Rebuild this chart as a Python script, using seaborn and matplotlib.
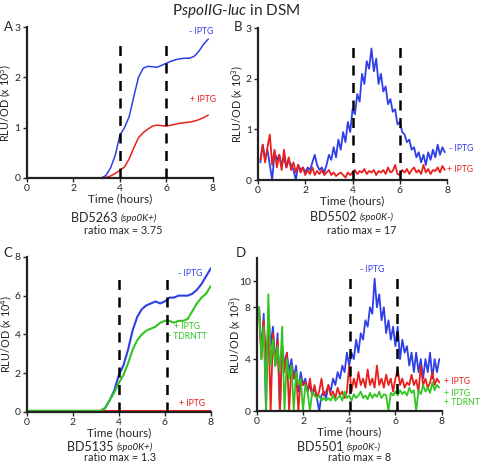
import numpy as np
import matplotlib
matplotlib.use('Agg')
import matplotlib.pyplot as plt
import seaborn as sns

sns.set_style('ticks')
plt.rcParams['font.family'] = ['Lato', 'DejaVu Sans']
plt.rcParams['mathtext.fontset'] = 'custom'
plt.rcParams['mathtext.rm'] = 'Lato'
plt.rcParams['mathtext.it'] = 'Lato:italic'

BLUE = '#2f3fe8'
RED = '#e8201c'
GREEN = '#33c422'

# ---- Panel A (x 10^5), 0.2 h steps
time_a = np.round(np.arange(0, 7.81, 0.2), 1)
a_minus = [0]*17 + [0.05, 0.2, 0.45, 0.85, 1.0, 1.22, 1.62, 2.0, 2.18, 2.22, 2.21, 2.2,
                    2.24, 2.28, 2.32, 2.35, 2.37, 2.38, 2.38, 2.42, 2.52, 2.66, 2.76]
a_plus = [0]*17 + [0.01, 0.04, 0.09, 0.15, 0.22, 0.38, 0.6, 0.8, 0.9, 0.97, 1.03, 1.05,
                   1.04, 1.03, 1.05, 1.07, 1.09, 1.1, 1.11, 1.13, 1.16, 1.2, 1.25]

# ---- Panel B (x 10^3), 0.1 h steps
time_b = np.round(np.arange(0.1, 7.91, 0.1), 1)
b_minus = [0.35, 0.7, 0.4, 0.6, 0.3, 0.0, 0.55, 0.4, 0.5, 0.3,
           0.45, 0.25, 0.4, 0.3, 0.2, 0.0, 0.3, 0.2, 0.25, 0.15,
           0.25, 0.2, 0.35, 0.5, 0.3, 0.2, 0.25, 0.15, 0.3, 0.5,
           0.4, 0.65, 0.45, 0.8, 0.6, 0.95, 0.75, 1.15, 0.95, 1.4,
           1.3, 1.7, 1.55, 2.1, 1.9, 2.35, 2.2, 2.6, 2.15, 2.4,
           1.9, 2.1, 1.75, 1.85, 1.5, 1.6, 1.35, 1.4, 1.1, 1.15,
           0.95, 0.9, 0.75, 0.8, 0.6, 0.65, 0.45, 0.55, 0.35, 0.5,
           0.3, 0.55, 0.4, 0.6, 0.45, 0.7, 0.5, 0.65, 0.55]
b_plus = [0.4, 0.7, 0.35, 0.65, 0.9, 0.3, 0.6, 0.25, 0.5, 0.2,
          0.6, 0.25, 0.45, 0.2, 0.35, 0.15, 0.3, 0.15, 0.25, 0.1,
          0.2, 0.12, 0.25, 0.1, 0.18, 0.12, 0.2, 0.1, 0.15, 0.2,
          0.1, 0.15, 0.08, 0.12, 0.15, 0.1, 0.05, 0.15, 0.1, 0.15,
          0.2, 0.12, 0.18, 0.15, 0.22, 0.12, 0.18, 0.15, 0.2, 0.1,
          0.18, 0.15, 0.2, 0.12, 0.25, 0.15, 0.18, 0.3, 0.12, 0.1,
          0.2, 0.15, 0.22, 0.12, 0.2, 0.25, 0.15, 0.2, 0.12, 0.3,
          0.15, 0.22, 0.12, 0.2, 0.18, 0.25, 0.15, 0.28, 0.2]

# ---- Panel C (x 10^4), 0.2 h steps
time_c = np.round(np.arange(0, 8.01, 0.2), 1)
c_minus = [0.05]*17 + [0.2, 0.6, 1.1, 1.9, 2.4, 3.2, 4.2, 4.9, 5.3, 5.5, 5.6, 5.7,
                       5.6, 5.7, 5.9, 5.9, 6.0, 6.0, 6.0, 6.1, 6.3, 6.6, 7.0, 7.4]
c_plus = [0.03]*41
c_plus_tdr = [0.06]*17 + [0.2, 0.6, 1.0, 1.5, 1.9, 2.5, 3.2, 3.7, 4.0, 4.2, 4.3, 4.4,
                          4.6, 4.7, 4.7, 4.6, 4.7, 4.7, 4.8, 5.2, 5.6, 5.9, 6.1, 6.5]

# ---- Panel D (x 10^3), 0.1 h steps
time_d = np.round(np.arange(0.1, 7.91, 0.1), 1)
d_minus = [8.0, 4.5, 7.5, 0.0, 7.8, 5.0, 6.5, 3.5, 6.0, 0.0,
           5.0, 3.5, 4.5, 3.0, 4.0, 2.5, 3.5, 1.5, 3.0, 2.0,
           2.5, 1.5, 2.0, 1.2, 1.8, 1.0, 0.0, 1.2, 1.5, 1.0,
           2.0, 1.5, 2.5, 2.0, 3.0, 2.5, 3.5, 3.0, 4.5, 3.5,
           4.5, 4.0, 5.5, 4.5, 6.0, 5.5, 7.0, 6.5, 8.0, 7.5,
           10.2, 8.0, 9.0, 7.0, 8.0, 6.0, 7.0, 5.5, 6.5, 5.0,
           6.5, 4.0, 5.5, 4.5, 5.0, 3.5, 4.5, 3.0, 4.5, 3.0,
           4.0, 2.5, 4.0, 3.0, 4.5, 2.5, 4.0, 3.0, 4.0]
d_plus = [7.5, 4.0, 7.0, 4.0, 6.5, 0.0, 6.0, 3.5, 5.5, 0.0,
          5.0, 3.0, 4.5, 0.0, 3.5, 2.5, 3.0, 0.0, 2.5, 2.0,
          2.2, 1.5, 2.5, 1.2, 2.0, 1.0, 1.5, 2.5, 1.2, 1.5,
          2.0, 1.2, 1.5, 1.0, 1.8, 1.2, 1.5, 1.0, 1.5, 3.5,
          1.5, 2.5, 1.8, 3.0, 2.0, 2.5, 1.8, 3.2, 2.0, 2.5,
          1.8, 3.5, 2.0, 2.5, 1.8, 2.8, 2.0, 2.5, 1.5, 2.5,
          3.2, 2.0, 2.5, 1.8, 2.2, 2.0, 2.8, 2.0, 2.4, 1.5,
          3.5, 2.0, 2.5, 1.8, 2.2, 3.0, 2.0, 2.5, 2.2]
d_plus_tdr = [8.0, 4.0, 6.5, 0.0, 9.0, 3.5, 5.5, 3.5, 5.0, 3.0,
              6.5, 0.0, 4.0, 2.5, 3.5, 0.0, 3.0, 2.0, 2.5, 0.0,
              2.0, 1.5, 0.0, 1.5, 1.2, 1.0, 1.2, 0.8, 1.0, 0.8,
              1.0, 0.8, 1.2, 0.8, 1.0, 1.2, 0.8, 1.5, 1.0, 1.2,
              0.8, 1.3, 1.0, 1.2, 1.5, 1.0, 1.2, 0.9, 1.4, 1.0,
              1.3, 1.1, 1.5, 1.0, 1.3, 1.2, 0.0, 1.4, 1.2, 1.5,
              1.2, 1.6, 1.3, 1.5, 1.2, 1.8, 1.4, 1.6, 0.0, 1.6,
              1.3, 2.0, 1.5, 1.8, 1.4, 2.2, 1.6, 2.0, 1.8]

fig = plt.figure(figsize=(4.8, 4.63), dpi=100)
ax_a = fig.add_axes([0.056, 0.6156, 0.3875, 0.326])
ax_b = fig.add_axes([0.5375, 0.611, 0.394, 0.328])
ax_c = fig.add_axes([0.056, 0.1102, 0.383, 0.335])
ax_d = fig.add_axes([0.535, 0.1123, 0.385, 0.3305])


def style(ax, ylim, yticks, exp, dashes, dash_top, label_x):
    for xv in dashes:
        ax.axvline(xv, ymin=0, ymax=dash_top, color='black', lw=1.8,
                   ls=(0, (4, 3)), zorder=5)
    ax.set_xlim(0, 8)
    ax.set_ylim(*ylim)
    ax.set_xticks([0, 2, 4, 6, 8])
    ax.set_yticks(yticks)
    ax.set_xlabel('Time (hours)', fontsize=8.5, labelpad=0)
    ax.set_ylabel('RLU/OD (x 10$^{%d}$)' % exp, fontsize=7.8)
    ax.yaxis.set_label_coords(label_x, 0.5)
    ax.tick_params(labelsize=7.5, length=3, width=1, pad=1.5)
    sns.despine(ax=ax)
    for s in ('left', 'bottom'):
        ax.spines[s].set_linewidth(1.6)
        ax.spines[s].set_color('#222222')


# A
sns.lineplot(x=time_a, y=a_minus, ax=ax_a, color=BLUE, lw=1.1)
sns.lineplot(x=time_a, y=a_plus, ax=ax_a, color=RED, lw=1.1)
style(ax_a, (0, 3), [0, 1, 2, 3], 5, [4, 6], 0.917, -0.072)
ax_a.text(7.5, 2.91, '- IPTG', color=BLUE, fontsize=6.2, ha='center', va='center')
ax_a.text(7.57, 1.55, '+ IPTG', color=RED, fontsize=6.2, ha='center', va='center')

# B
sns.lineplot(x=time_b, y=b_minus, ax=ax_b, color=BLUE, lw=1.3)
sns.lineplot(x=time_b, y=b_plus, ax=ax_b, color=RED, lw=1.3)
style(ax_b, (0, 3), [0, 1, 2, 3], 3, [4, 6], 0.915, -0.069)
ax_b.text(8.1, 0.62, '- IPTG', color=BLUE, fontsize=6.2, ha='left', va='center', clip_on=False)
ax_b.text(8.0, 0.2, '+ IPTG', color=RED, fontsize=6.2, ha='left', va='center', clip_on=False)

# C
sns.lineplot(x=time_c, y=c_minus, ax=ax_c, color=BLUE, lw=1.5)
sns.lineplot(x=time_c, y=c_plus, ax=ax_c, color=RED, lw=1.5)
sns.lineplot(x=time_c, y=c_plus_tdr, ax=ax_c, color=GREEN, lw=1.5)
style(ax_c, (0, 8), [0, 2, 4, 6, 8], 4, [4.03, 6.08], 0.9, -0.07)
ax_c.text(7.1, 7.14, '- IPTG', color=BLUE, fontsize=6.2, ha='center', va='center')
ax_c.text(6.96, 4.4, '+ IPTG', color=GREEN, fontsize=6.2, ha='center', va='center')
ax_c.text(6.96, 3.9, '+ TDRNTT', color=GREEN, fontsize=6.2, ha='center', va='center')
ax_c.text(7.17, 0.45, '+ IPTG', color=RED, fontsize=6.2, ha='center', va='center')

# D
sns.lineplot(x=time_d, y=d_minus, ax=ax_d, color=BLUE, lw=1.3)
sns.lineplot(x=time_d, y=d_plus, ax=ax_d, color=RED, lw=1.3)
sns.lineplot(x=time_d, y=d_plus_tdr, ax=ax_d, color=GREEN, lw=1.3)
style(ax_d, (0, 11.8), [0, 4, 8, 10], 3, [4.03, 6.08], 0.9, -0.076)
ax_d.text(5.0, 10.9, '- IPTG', color=BLUE, fontsize=6.2, ha='center', va='center')
ax_d.text(8.1, 2.25, '+ IPTG', color=RED, fontsize=6.2, ha='left', va='center', clip_on=False)
ax_d.text(8.1, 1.35, '+ IPTG', color=GREEN, fontsize=6.2, ha='left', va='center', clip_on=False)
ax_d.text(8.1, 0.65, '+ TDRNTT', color=GREEN, fontsize=6.2, ha='left', va='center', clip_on=False)

# panel letters
for lab, x, y in [('A', 0.008, 0.942), ('B', 0.488, 0.942), ('C', 0.008, 0.4535), ('D', 0.492, 0.4535)]:
    fig.text(x, y, lab, fontsize=9.5, ha='left', va='center')

# title
fig.text(0.492, 0.976, r'P$\mathit{spoIIG}$-$\mathit{luc}$ in DSM', fontsize=11,
         ha='center', va='center')

# strain captions
strains = ['BD5263', 'BD5502', 'BD5135', 'BD5501']
genotypes = ['(spo0K+)', '(spo0K-)', '(spo0K+)', '(spo0K-)']
ratios = ['3.75', '17', '1.3', '8']
cap_x = [0.252, 0.75, 0.243, 0.723]
ratio_x = [0.256, 0.754, 0.25, 0.75]
cap_y = [0.529, 0.531, 0.0346, 0.0346]
ratio_y = [0.503, 0.503, 0.011, 0.011]
for s, g, r, cx, rx, cy, ry in zip(strains, genotypes, ratios, cap_x, ratio_x, cap_y, ratio_y):
    fig.text(cx, cy, s + ' ', fontsize=9, ha='right', va='center')
    fig.text(cx, cy, g, fontsize=7, style='italic', ha='left', va='center')
    fig.text(rx, ry, 'ratio max = ' + r, fontsize=7.8, ha='center', va='center')

fig.savefig('out.png', dpi=100)
